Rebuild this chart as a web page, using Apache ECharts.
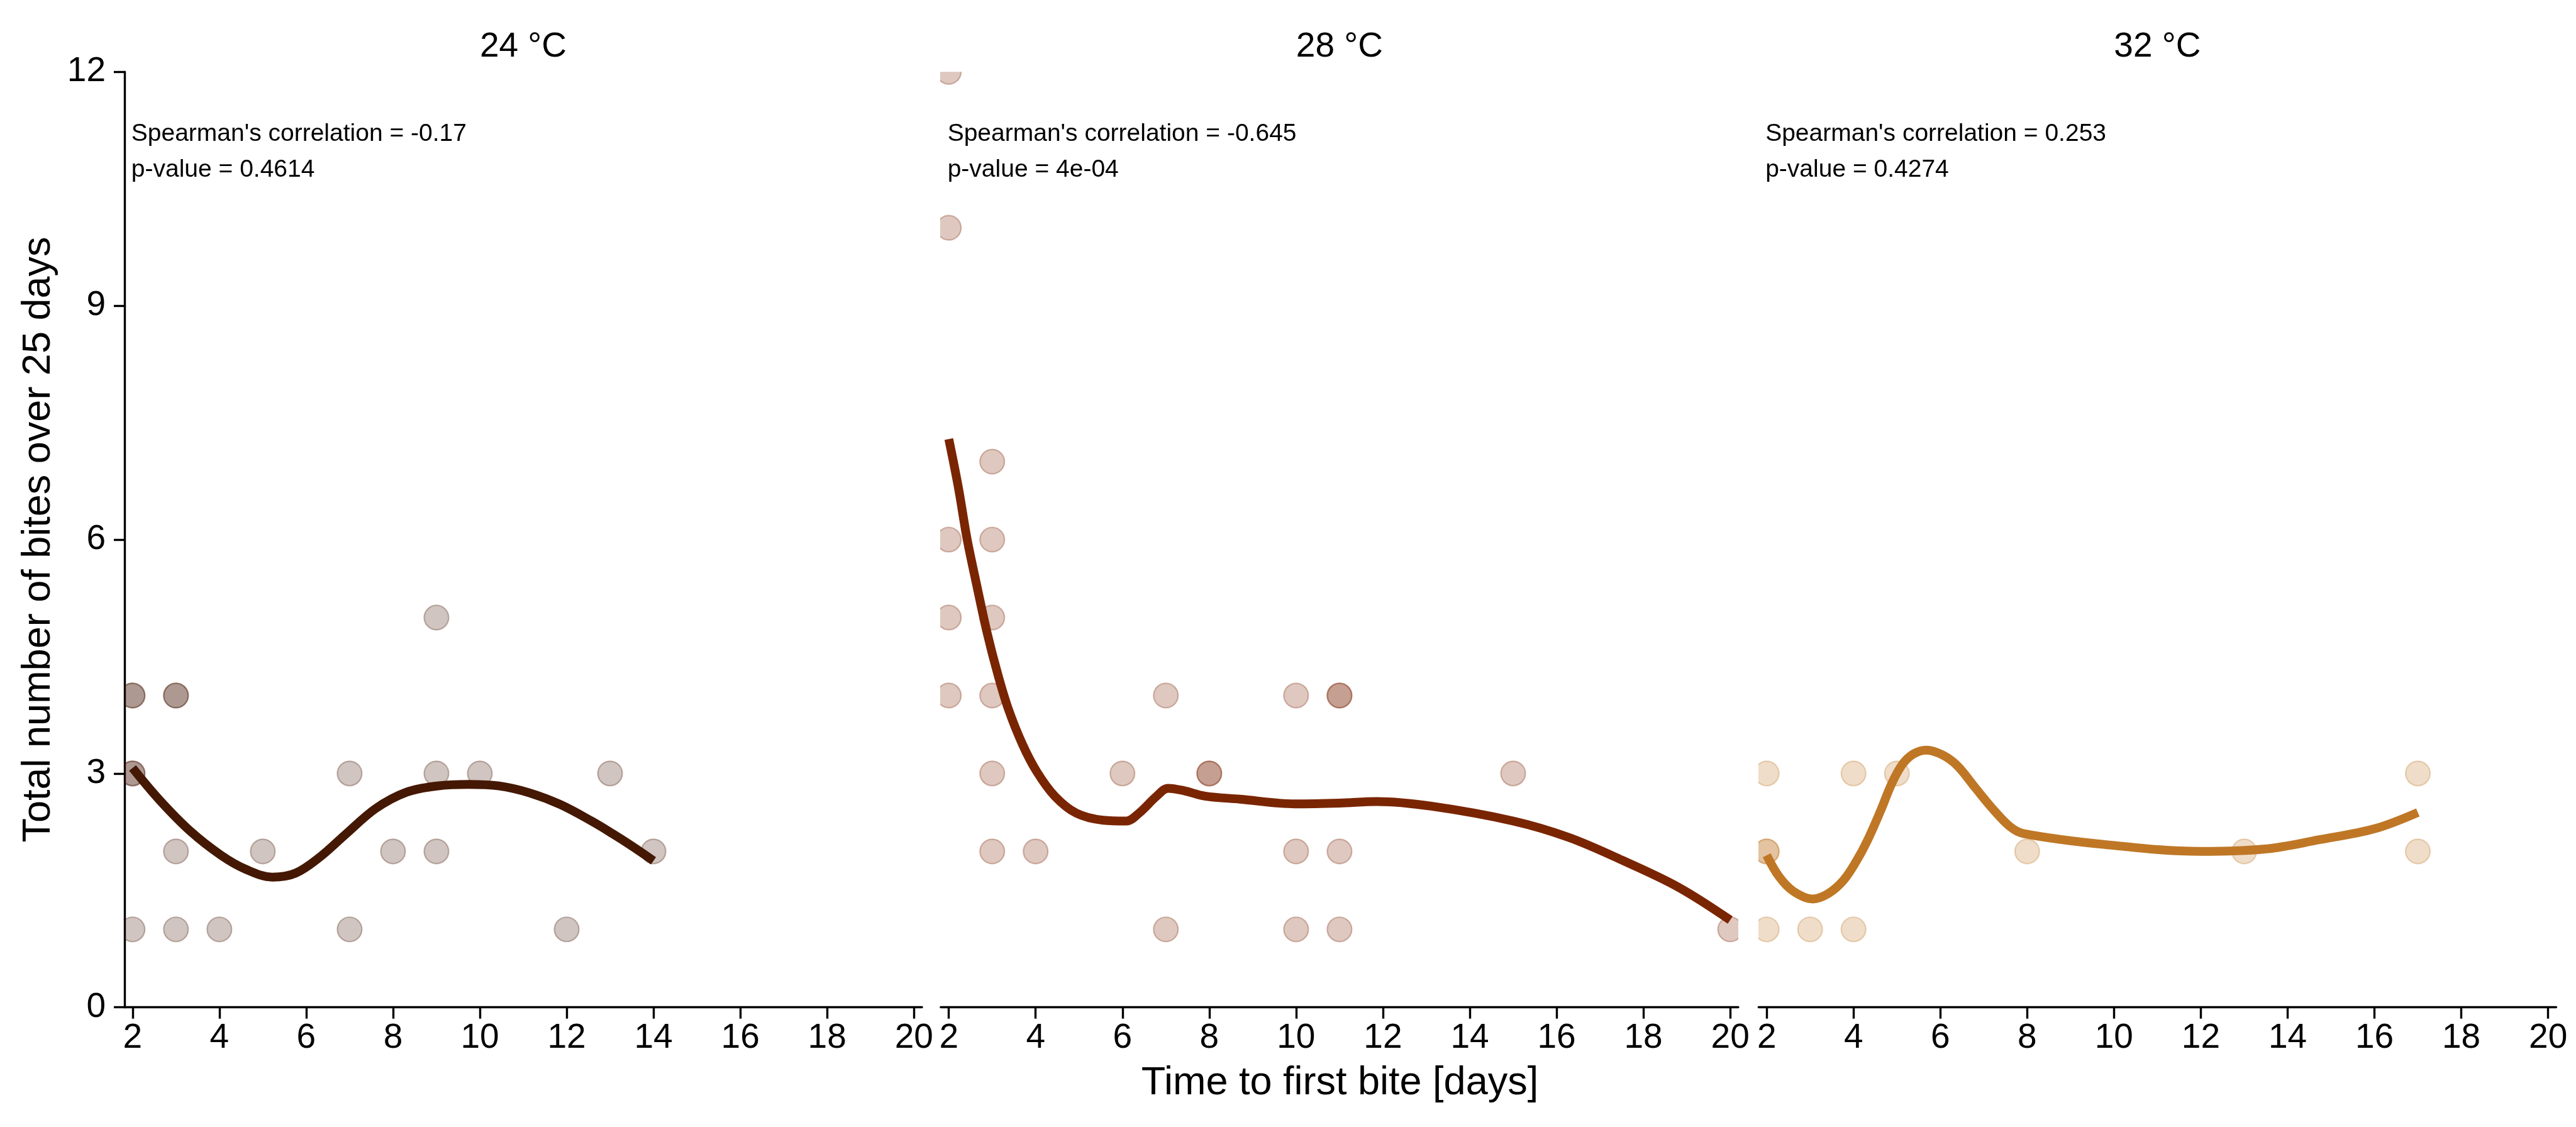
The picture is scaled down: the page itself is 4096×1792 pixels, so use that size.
<!DOCTYPE html>
<html>
<head>
<meta charset="utf-8">
<style>
html,body{margin:0;padding:0;background:#fff;}
#chart{width:4096px;height:1792px;}
</style>
<script src="https://cdn.jsdelivr.net/npm/echarts@6/dist/echarts.min.js"></script>
</head>
<body>
<div id="chart"></div>
<script>
// ---- data ----
var panelTitles = ['24 °C', '28 °C', '32 °C'];
var corrText = ["Spearman's correlation = -0.17", "Spearman's correlation = -0.645", "Spearman's correlation = 0.253"];
var pText = ['p-value = 0.4614', 'p-value = 4e-04', 'p-value = 0.4274'];
var xTicks = [2, 4, 6, 8, 10, 12, 14, 16, 18, 20];
var yTicks = [0, 3, 6, 9, 12];

var pts24 = [[2,4],[2,4],[2,3],[2,3],[2,1],[3,4],[3,4],[3,2],[3,1],[4,1],[5,2],[7,3],[7,1],[8,2],[9,5],[9,3],[9,2],[10,3],[12,1],[13,3],[14,2]];
var pts28 = [[2,12],[2,10],[2,6],[2,5],[2,4],[3,7],[3,6],[3,5],[3,4],[3,3],[3,2],[4,2],[6,3],[7,4],[7,1],[8,3],[8,3],[10,4],[10,2],[10,1],[11,4],[11,4],[11,2],[11,1],[15,3],[20,1]];
var pts32 = [[2,3],[2,2],[2,2],[2,1],[3,1],[4,3],[4,1],[5,3],[8,2],[13,2],[17,3],[17,2]];

var fit24 = [[2,3.07],[2.62,2.66],[3.33,2.26],[4.04,1.95],[4.61,1.77],[5.22,1.67],[5.75,1.72],[6.32,1.93],[6.89,2.21],[7.6,2.55],[8.31,2.76],[9.02,2.84],[9.73,2.86],[10.44,2.84],[11.15,2.75],[11.86,2.6],[12.57,2.39],[13.05,2.23],[13.5,2.07],[14,1.88]];
var fit28 = [[2,7.29],[2.22,6.67],[2.42,6.01],[2.63,5.45],[2.88,4.81],[3.12,4.29],[3.37,3.83],[3.7,3.37],[4.03,3.02],[4.44,2.71],[4.94,2.49],[5.56,2.4],[6.09,2.39],[6.38,2.49],[6.79,2.71],[7.05,2.81],[7.41,2.78],[7.9,2.71],[8.71,2.67],[9.97,2.61],[11,2.62],[11.86,2.64],[13.12,2.58],[15,2.39],[16.28,2.18],[17.54,1.88],[18.81,1.54],[20,1.12]];
var fit32 = [[2,1.95],[2.28,1.68],[2.61,1.49],[3.06,1.39],[3.42,1.46],[3.77,1.63],[4.07,1.88],[4.32,2.14],[4.63,2.53],[4.88,2.87],[5.13,3.12],[5.38,3.25],[5.68,3.3],[6.04,3.24],[6.39,3.1],[6.8,2.82],[7.2,2.55],[7.6,2.32],[7.91,2.23],[9.76,2.09],[12,2.0],[13.47,2.03],[14.73,2.15],[16,2.29],[17,2.5]];

var panelPts = [pts24, pts28, pts32];
var panelFit = [fit24, fit28, fit32];
var panelRGB = [[68,24,2],[122,37,2],[191,119,38]];

// ---- layout (window px) ----
var FONT = 'Liberation Sans, Arial, sans-serif';
var gridTop = 114.3, gridH = 1487.4, gridW = 1268;
var gridLefts = [198, 1495.9, 2796.4];
var xMin = 1.815, xMax = 20.185;
var pointR = 19.5;

function rgba(c, a){ return 'rgba(' + c[0] + ',' + c[1] + ',' + c[2] + ',' + a + ')'; }

function makePointRenderer(c) {
  return function (params, api) {
    var p = api.coord([api.value(0), api.value(1)]);
    return {
      type: 'circle',
      shape: {cx: p[0], cy: p[1], r: pointR},
      style: {fill: rgba(c, 0.25), stroke: rgba(c, 0.3), lineWidth: 2.2}
    };
  };
}

var grids = [], xAxes = [], yAxes = [], series = [], graphics = [];
for (var i = 0; i < 3; i++) {
  grids.push({left: gridLefts[i], top: gridTop, width: gridW, height: gridH, containLabel: false});
  xAxes.push({
    type: 'value', gridIndex: i, min: xMin, max: xMax,
    axisLine: {show: true, onZero: false, lineStyle: {color: '#000', width: 3.4}},
    axisTick: {show: true, customValues: xTicks, length: 18, lineStyle: {color: '#000', width: 3.4}},
    axisLabel: {show: true, customValues: xTicks, fontSize: 55, color: '#000', margin: 22, fontFamily: FONT},
    splitLine: {show: false}
  });
  yAxes.push({
    type: 'value', gridIndex: i, min: 0, max: 12, interval: 3,
    show: i === 0,
    axisLine: {show: true, onZero: false, lineStyle: {color: '#000', width: 3.4}},
    axisTick: {show: true, length: 17, lineStyle: {color: '#000', width: 3.4}},
    axisLabel: {show: true, fontSize: 55, color: '#000', margin: 30, fontFamily: FONT},
    splitLine: {show: false}
  });
  var c = panelRGB[i];
  series.push({
    type: 'custom', xAxisIndex: i, yAxisIndex: i, data: panelPts[i],
    encode: {x: 0, y: 1}, clip: true, z: 2,
    renderItem: makePointRenderer(c), silent: true
  });
  series.push({
    type: 'line', xAxisIndex: i, yAxisIndex: i, data: panelFit[i],
    smooth: 0.35, symbol: 'none', showSymbol: false, clip: true, z: 3,
    lineStyle: {color: rgba(c, 1), width: 14, cap: 'butt', join: 'round'},
    emphasis: {disabled: true}, silent: true
  });
  var cx = gridLefts[i] + gridW / 2;
  graphics.push({type: 'text', x: cx, y: 75, silent: true,
    style: {text: panelTitles[i], fill: '#000', fontSize: 55, fontFamily: FONT,
      textAlign: 'center', textVerticalAlign: 'middle', align: 'center', verticalAlign: 'middle'}});
  var ax = gridLefts[i] + (2 - xMin) / (xMax - xMin) * gridW - 2;
  graphics.push({type: 'text', x: ax, y: 213, silent: true,
    style: {text: corrText[i], fill: '#000', fontSize: 39, fontFamily: FONT,
      textAlign: 'left', textVerticalAlign: 'middle', align: 'left', verticalAlign: 'middle'}});
  graphics.push({type: 'text', x: ax, y: 270, silent: true,
    style: {text: pText[i], fill: '#000', fontSize: 39, fontFamily: FONT,
      textAlign: 'left', textVerticalAlign: 'middle', align: 'left', verticalAlign: 'middle'}});
}
graphics.push({type: 'text', x: 2130.5, y: 1723, silent: true,
  style: {text: 'Time to first bite [days]', fill: '#000', fontSize: 63, fontFamily: FONT,
    textAlign: 'center', textVerticalAlign: 'middle', align: 'center', verticalAlign: 'middle'}});
graphics.push({type: 'text', x: 61.5, y: 858, rotation: Math.PI / 2, silent: true,
  style: {text: 'Total number of bites over 25 days', fill: '#000', fontSize: 63, fontFamily: FONT,
    textAlign: 'center', textVerticalAlign: 'middle', align: 'center', verticalAlign: 'middle'}});

var chart = echarts.init(document.getElementById('chart'), null, {renderer: 'canvas'});
chart.setOption({
  backgroundColor: '#fff',
  animation: false,
  grid: grids,
  xAxis: xAxes,
  yAxis: yAxes,
  series: series,
  graphic: graphics
});
</script>
</body>
</html>
